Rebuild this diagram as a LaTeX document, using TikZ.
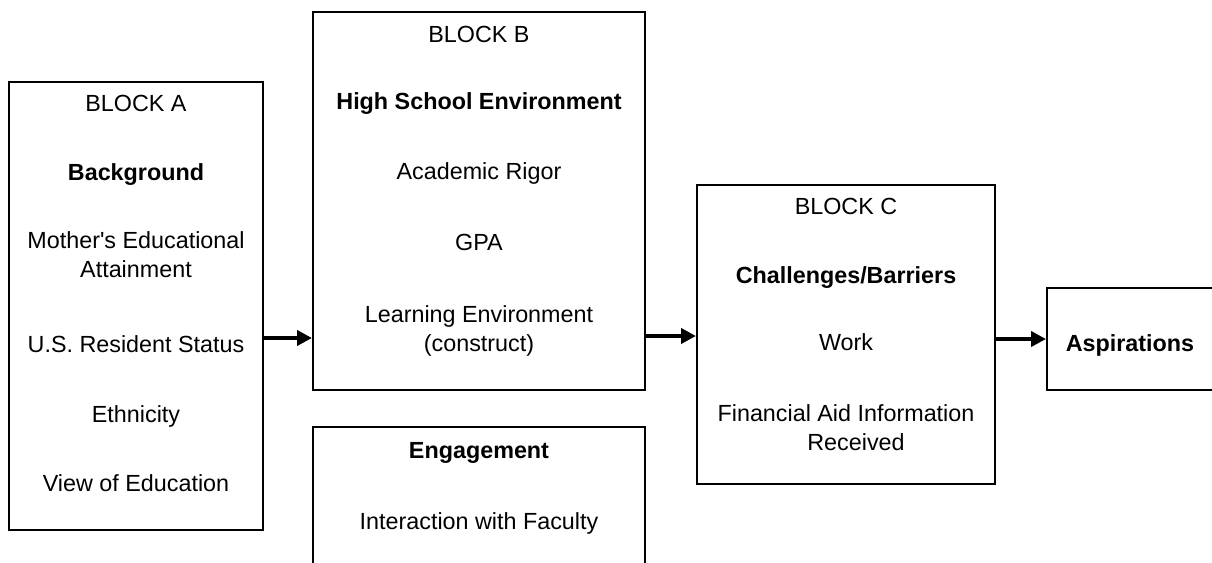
\documentclass[tikz,border=0pt]{standalone}
\usepackage{fontspec}
\setmainfont{Liberation Sans}
\usetikzlibrary{arrows.meta,fit}

\begin{document}
\begin{tikzpicture}[
  x=0.75pt, y=-0.75pt,
  box/.style={draw=black, line width=1.5pt, inner sep=0pt, fill=none},
  txt/.style={inner sep=0pt, text height=12.6pt, text depth=0pt,
              font=\fontsize{17.5pt}{21pt}\selectfont},
  head/.style={txt, font=\fontsize{17.5pt}{21pt}\selectfont\bfseries},
  flow/.style={line width=3pt, -{Triangle[length=11.25pt,width=11.25pt]}}
]
\path[use as bounding box, clip] (0,0) rectangle (1212,563);

% boxes
\node[box, fit={(9,82) (263,530)}] (A) {};
\node[box, fit={(313,12) (645,390)}] (B) {};
\node[box, fit={(313,427) (645,620)}] (E) {};
\node[box, fit={(697,185) (995,484)}] (C) {};
\node[box, fit={(1047,288) (1214,390)}] (D) {};

% block A
\node[txt]  (a1) at (136,103) {BLOCK A};
\node[head] (a2) at (136,172) {Background};
\node[txt]  (a3) at (136,240) {Mother\textquotesingle s Educational};
\node[txt]  (a4) at (136,269) {Attainment};
\node[txt]  (a5) at (136,344) {U.S. Resident Status};
\node[txt]  (a6) at (136,414) {Ethnicity};
\node[txt]  (a7) at (136,483) {View of Education};

% block B
\node[txt]  (b1) at (479,34)  {BLOCK B};
\node[head] (b2) at (479,101) {High School Environment};
\node[txt]  (b3) at (479,171) {Academic Rigor};
\node[txt]  (b4) at (479,242) {GPA};
\node[txt]  (b5) at (479,314) {Learning Environment};
\node[txt]  (b6) at (479,343) {(construct)};

% engagement
\node[head] (e1) at (479,450) {Engagement};
\node[txt]  (e2) at (479,521) {Interaction with Faculty};

% block C
\node[txt]  (c1) at (846,206) {BLOCK C};
\node[head] (c2) at (846,275) {Challenges/Barriers};
\node[txt]  (c3) at (846,342) {Work};
\node[txt]  (c4) at (846,413) {Financial Aid Information};
\node[txt]  (c5) at (856,442) {Received};

% outcome
\node[head] (d1) at (1130,343) {Aspirations};

% connectors
\coordinate (ab) at (0,338);
\coordinate (bc) at (0,336);
\draw[flow] (A.east |- ab) -- (B.west |- ab);
\draw[flow] (B.east |- bc) -- (C.west |- bc);
\draw[flow] (C.east |- D.west) -- (D.west);
\end{tikzpicture}
\end{document}
